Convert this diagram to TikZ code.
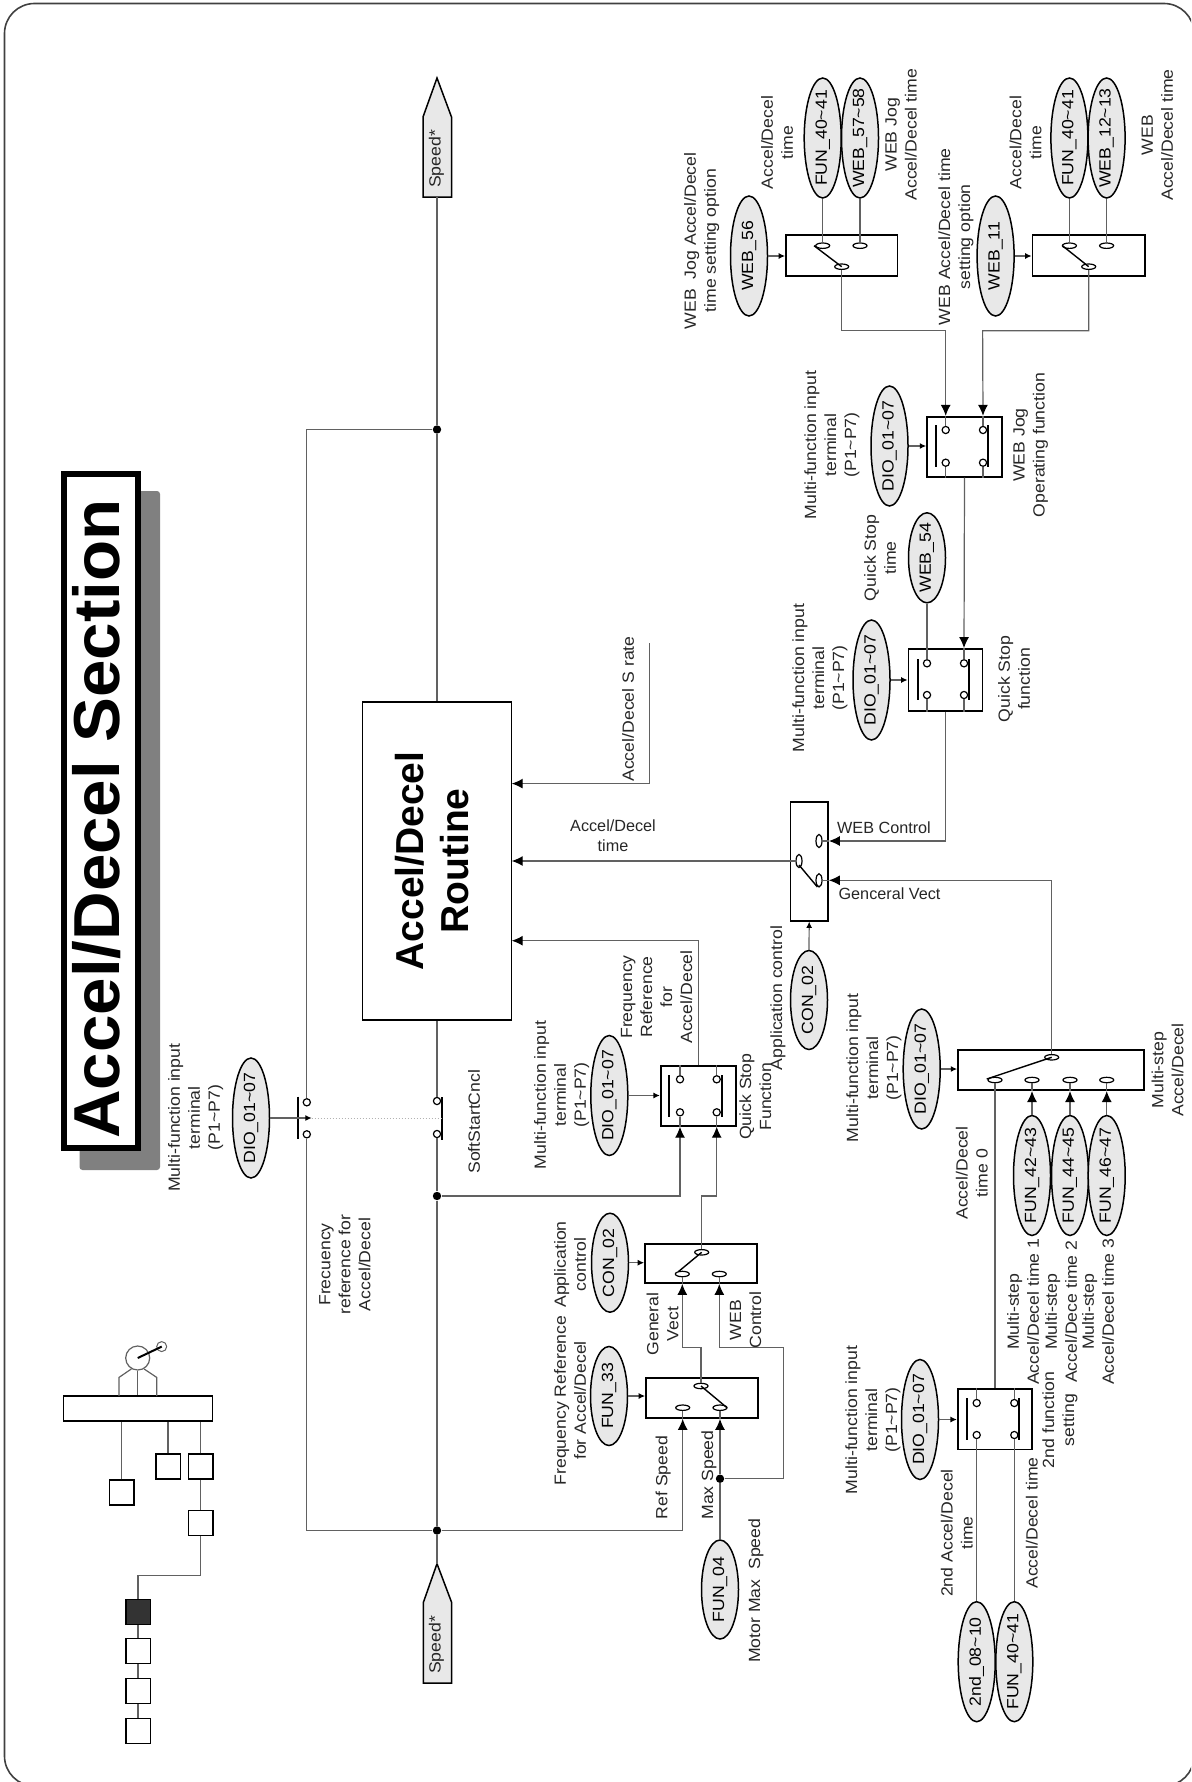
\documentclass[tikz,border=0pt]{standalone}
\usepackage{fontspec}
\setmainfont{Liberation Sans}
\usetikzlibrary{arrows.meta,shapes.geometric,calc}
\definecolor{linecol}{gray}{0.38}
\definecolor{ovalfill}{gray}{0.91}
\newcommand{\mk}[1]{\makebox[0pt]{\scalebox{1.09}[1]{#1}}}
\newcommand{\labfont}{\fontsize{8.1}{10}\selectfont}
\tikzset{
  x=.5pt,y=-.5pt,
  sz/.style 2 args={minimum width=#1*.5pt,minimum height=#2*.5pt},
  box/.style={draw=black,line width=.85pt,rectangle,inner sep=0pt},
  oval/.style={ellipse,draw=black,line width=.75pt,fill=ovalfill,inner sep=0pt,
     rotate=90,minimum width=120*.5pt,minimum height=37*.5pt,font=\labfont},
  ovalS/.style={oval,minimum width=99*.5pt},
  ovalM/.style={oval,minimum width=90*.5pt},
  lab/.style={rotate=90,xscale=1.09,align=center,inner sep=0pt,font=\labfont,text=black!85},
  hlab/.style={align=center,inner sep=0pt,font=\labfont,text=black!85},
  conn/.style={draw=linecol,line width=.6pt},
  arr/.style={conn,-{Latex[length=5.5pt,width=5pt,black]}},
  sarr/.style={conn,-{Latex[length=3.2pt,width=3pt,black]}},
  pin/.style={circle,draw=black,fill=white,line width=.6pt,inner sep=0pt,minimum size=3.6pt},
  ctH/.style={ellipse,draw=black,fill=white,line width=.6pt,inner sep=0pt,minimum width=7pt,minimum height=2.7pt},
  ctV/.style={ellipse,draw=black,fill=white,line width=.6pt,inner sep=0pt,minimum width=3pt,minimum height=6.6pt},
  blade/.style={draw=black,line width=.7pt},
  bar/.style={draw=black,line width=1.1pt},
  dot/.style={circle,fill=black,inner sep=0pt,minimum size=4.2pt},
  sq/.style={box,sz={24.5}{25},line width=.75pt},
}
\begin{document}
\begin{tikzpicture}
\path[use as bounding box] (0,0) rectangle (1191,1782);
\clip (0,0) rectangle (1191,1782);
% frame
\draw[draw=black!75,line width=.8pt,rounded corners=15pt] (4.5,3.5) rectangle (1194,1786);

% title
\fill[gray!100,rounded corners=1.5pt] (79.5,491) rectangle (160,1170);
\node[draw=black,fill=white,line width=3pt,sz={74}{674},inner sep=0pt] (title) at (101,811) {};
\node[rotate=90,xscale=1.035,inner sep=0pt,font=\fontsize{32.5}{36}\selectfont\bfseries] (titletext) at (96.5,819) {Accel/Decel Section};

% small tree
\node[box,sz={149}{25},line width=.75pt] (bus) at (137.8,1408.5) {};
\node[circle,draw=linecol,line width=.6pt,inner sep=0pt,minimum size=12pt] (mot) at (137.7,1358) {};
\node[circle,draw=linecol,line width=.5pt,inner sep=0pt,minimum size=5pt] (knob) at (161.7,1346.6) {};
\draw[blade,line width=1pt] (mot.center) -- (knob.center);
\draw[conn] (mot) -- (mot |- bus.north);
\draw[conn] (mot.240) -- (119,1377.4) -- (119,1396);
\draw[conn] (mot.300) -- (156.7,1377.4) -- (156.7,1396);
\node[sq] (s1) at (121.7,1492.5) {};
\node[sq] (s2) at (168,1466.7) {};
\node[sq] (s3) at (200.5,1466.7) {};
\node[sq] (s4) at (200.5,1523) {};
\node[sq,fill=black!80] (s5) at (138,1612) {};
\node[sq] (s6) at (138,1650.8) {};
\node[sq] (s7) at (138,1691) {};
\node[sq] (s8) at (138,1731) {};
\draw[conn] (s1.north) -- (s1 |- bus.south);
\draw[conn] (s2.north) -- (s2 |- bus.south);
\draw[conn] (s3.north) -- (s3 |- bus.south);
\draw[conn] (s3) -- (s4);
\draw[conn] (s4.south) -- ++(0,39.5) -| (s5.north);
\draw[conn] (s5) -- (s6);
\draw[conn] (s6) -- (s7);
\draw[conn] (s7) -- (s8);

% routine
\node[box,rotate=90,sz={318}{149},line width=.95pt] (route) at (437,861) {};
\node[rotate=90,align=center,inner sep=0pt,font=\fontsize{19.5}{22.5}\selectfont\bfseries] (routetext) at (432.5,861) {Accel/Decel\\Routine};

% speed pointers
\coordinate (spTtip) at (437,78);
\draw[draw=black,line width=.75pt,fill=ovalfill] (spTtip) -- (451.5,117) -- (451.5,197) -- (423,197) -- (423,117) -- cycle;
\node[lab] (spTt) at (436.5,159) {Speed*};
\coordinate (spTb) at (437,197);
\coordinate (spBtip) at (437,1563.7);
\draw[draw=black,line width=.75pt,fill=ovalfill] (spBtip) -- (451.7,1602.6) -- (451.7,1683) -- (423.3,1683) -- (423.3,1602.6) -- cycle;
\node[lab] (spBt) at (436.5,1645) {Speed*};

% main line
\node[dot] (j1) at (437,429.5) {};
\node[dot] (j2) at (437,1196) {};
\node[dot] (j3) at (437,1530.5) {};
\node[pin] (ssa) at (437,1101) {};
\node[pin] (ssb) at (437,1134) {};
\node[pin] (fra) at (306.8,1102.3) {};
\node[pin] (frb) at (306.8,1134.3) {};
\draw[conn] (spTb) -- (j1);
\draw[conn] (j1) -- (route.east);
\draw[conn] (route.west) -- (ssa);
\draw[conn] (ssb) -- (j2);
\draw[conn] (j2) -- (j3);
\draw[conn] (j3) -- (spBtip);
\draw[conn] (j1) -| (fra);
\draw[conn] (frb) |- (j3);
\draw[bar] (442,1097) -- (442,1140);
\draw[bar] (297.7,1096.7) -- (297.7,1139.3);
\node[oval] (dio0) at (251,1118) {\mk{DIO\_01\textasciitilde07}};
\coordinate (fratip) at (311.7,1118);
\draw[sarr] (dio0.south) -- (fratip);
\draw[draw=gray!60,line width=.5pt,densely dotted] (fratip) -- (441,1118);
\node[lab] at (195.7,1117.7) {Multi-function input\\terminal\\(P1\textasciitilde P7)};
\node[lab] at (345,1264.5) {Frecuency\\reference for\\Accel/Decel};
\node[lab] at (474,1121.7) {SoftStartCncl};

% S rate
\coordinate (srate) at (649.3,643);
\draw[arr] (srate) |- (511.7,783.6);
\node[lab] at (628,709) {Accel/Decel S rate};
\node[hlab] at (613,836) {Accel/Decel\\time};

% quick stop (frequency)
\node[box,sz={75}{59.7}] (qf) at (698.2,1096) {};
\node[pin] (qf1) at (680,1079.3) {};
\node[pin] (qf2) at (680,1112.3) {};
\node[pin] (qf3) at (716.7,1079.3) {};
\node[pin] (qf4) at (716.7,1112.3) {};
\draw[conn] (qf1) -- (qf1 |- qf.north);
\draw[conn] (qf3) -- (qf3 |- qf.north);
\draw[conn] (qf2) -- (qf2 |- qf.south);
\draw[conn] (qf4) -- (qf4 |- qf.south);
\draw[bar] (669.3,1075) -- (669.3,1116.7);
\draw[bar] (721.7,1075) -- (721.7,1116.7);
\node[oval] (dioq) at (609.3,1095.5) {\mk{DIO\_01\textasciitilde07}};
\draw[sarr] (dioq.south) -- (dioq.south -| qf.west);
\draw[arr] (j2) -| (qf2 |- qf.south);
\draw[arr] (qf.north) |- (511.7,940.7);
\node[lab] at (561.7,1095) {Multi-function input\\terminal\\(P1\textasciitilde P7)};
\node[lab] at (656.5,997) {Frequency\\Reference\\for\\Accel/Decel};
\node[lab] at (755.3,1096.7) {Quick Stop\\Function};

% application control (frequency)
\node[box,sz={111.7}{39}] (ca) at (700.8,1263.5) {};
\node[ctH] (ca1) at (682.3,1274) {};
\node[ctH] (ca2) at (719.3,1274) {};
\node[ctH] (ca3) at (701.7,1252.3) {};
\draw[blade] (ca3.center) -- (678.3,1271.7);
\node[ovalS] (con1) at (610,1262.7) {\mk{CON\_02}};
\draw[sarr] (con1.south) -- (con1.south -| ca.west);
\draw[arr] (ca3) -- (701.7,1196) -| (qf4 |- qf.south);
\node[lab] at (570,1264.5) {Application\\control};
\node[lab] at (662.7,1324) {General\\Vect};
\node[lab] at (745.5,1320) {WEB\\Control};

% frequency reference select
\node[box,sz={111.7}{40}] (fs) at (701.8,1398) {};
\node[ctH] (fs1) at (682.7,1407.7) {};
\node[ctH] (fs2) at (720,1407.7) {};
\node[ctH] (fs3) at (701,1386) {};
\draw[blade] (fs3.center) -- (727,1407.7);
\node[ovalS] (fun33) at (609,1396) {\mk{FUN\_33}};
\draw[sarr] (fun33.south) -- (fun33.south -| fs.west);
\node[dot] (j4) at (720,1478.7) {};
\node[ovalS] (fun04) at (720,1589.5) {\mk{FUN\_04}};
\draw[arr] (fs3) -- (701,1347.3) -| (ca1 |- ca.south);
\draw[arr] (j4) -- (783.3,1478.7) |- (719.3,1347.3) -- (ca2 |- ca.south);
\draw[conn] (ca1) -- (ca1 |- ca.south);
\draw[conn] (ca2) -- (ca2 |- ca.south);
\draw[arr] (j3) -| (fs1 |- fs.south);
\draw[conn] (fs1) -- (fs1 |- fs.south);
\draw[conn] (fun04.east) -- (j4);
\draw[arr] (j4) -- (fs2 |- fs.south);
\draw[conn] (fs2) -- (fs2 |- fs.south);
\node[lab] at (570,1400.5) {Frequency Reference\\for Accel/Decel};
\node[lab] at (663.3,1477.5) {Ref Speed};
\node[lab] at (709,1475) {Max Speed};
\node[lab] at (756,1590.7) {Motor Max\ \ Speed};

% application control (time)
\node[box,sz={37.6}{118.7}] (ap) at (809.2,861.3) {};
\node[ctV] (ap1) at (819,841) {};
\node[ctV] (ap2) at (819,880.3) {};
\node[ctV] (ap3) at (799,861) {};
\draw[blade] (799,865) -- (817.4,887);
\draw[arr] (ap3) -- (511.7,861);
\node[ovalS] (con2) at (809,1000) {\mk{CON\_02}};
\draw[sarr] (con2.east) -- (ap.south);
\draw[conn] (ap1) -- (ap1 -| ap.east);
\draw[conn] (ap2) -- (ap2 -| ap.east);
\node[hlab] at (884,828) {WEB Control};
\node[hlab] at (889.5,894) {Genceral Vect};
\node[lab] at (778,998) {Application control};

% multi-step
\node[box,sz={186}{40.3}] (ms) at (1051,1070) {};
\node[ctH] (ms0) at (995,1080) {};
\node[ctH] (ms1) at (1032,1080) {};
\node[ctH] (ms2) at (1070,1080) {};
\node[ctH] (ms3) at (1106.7,1080) {};
\node[ctH] (msc) at (1051.7,1057.3) {};
\draw[blade] (986.7,1079) -- (msc.center);
\draw[arr] (msc) |- (ap2 -| ap.east);
\node[oval] (diom) at (921.7,1069) {\mk{DIO\_01\textasciitilde07}};
\draw[sarr] (diom.south) -- (diom.south -| ms.west);
\node[oval] (f42) at (1032,1175.5) {\mk{FUN\_42\textasciitilde43}};
\node[oval] (f44) at (1070,1175.5) {\mk{FUN\_44\textasciitilde45}};
\node[oval] (f46) at (1106.7,1175.5) {\mk{FUN\_46\textasciitilde47}};
\draw[arr] (f42.east) -- (ms1 |- ms.south);
\draw[arr] (f44.east) -- (ms2 |- ms.south);
\draw[arr] (f46.east) -- (ms3 |- ms.south);
\draw[conn] (ms1) -- (ms1 |- ms.south);
\draw[conn] (ms2) -- (ms2 |- ms.south);
\draw[conn] (ms3) -- (ms3 |- ms.south);
\node[lab] at (874,1068) {Multi-function input\\terminal\\(P1\textasciitilde P7)};
\node[lab] at (971.7,1173) {Accel/Decel\\time 0};
\node[lab] at (1023,1311.7) {Multi-step\\Accel/Decel time 1};
\node[lab] at (1061,1311.7) {Multi-step\\Accel/Dece time 2};
\node[lab] at (1098,1311.7) {Multi-step\\Accel/Decel time 3};
\node[lab] at (1167.5,1070) {Multi-step\\Accel/Decel};

% 2nd function
\node[box,sz={74.6}{60.3}] (sf) at (995,1419.2) {};
\node[pin] (sf1) at (976.7,1403) {};
\node[pin] (sf2) at (976.7,1435) {};
\node[pin] (sf3) at (1014.3,1403) {};
\node[pin] (sf4) at (1014.3,1435) {};
\draw[conn] (sf1) -- (sf1 |- sf.north);
\draw[conn] (sf3) -- (sf3 |- sf.north);
\draw[bar] (966.7,1398) -- (966.7,1440);
\draw[bar] (1019,1398) -- (1019,1440);
\draw[conn] (ms0) -- (sf.north);
\node[oval] (dios) at (920,1419.5) {\mk{DIO\_01\textasciitilde07}};
\draw[sarr] (dios.south) -- (dios.south -| sf.west);
\node[oval] (s2nd) at (976.7,1661.7) {\mk{2nd\_08\textasciitilde10}};
\node[oval] (f40c) at (1014.3,1661.7) {\mk{FUN\_40\textasciitilde41}};
\draw[conn] (s2nd.east) -- (sf2);
\draw[conn] (f40c.east) -- (sf4);
\node[lab] at (873,1420) {Multi-function input\\terminal\\(P1\textasciitilde P7)};
\node[lab] at (956.7,1533) {2nd Accel/Decel\\time};
\node[lab] at (1031.7,1523) {Accel/Decel time};
\node[lab] at (1060,1420) {2nd function\\setting};

% quick stop (time)
\node[box,sz={74.2}{61.7}] (qt) at (945.5,679.8) {};
\node[pin] (qt1) at (927,663.3) {};
\node[pin] (qt2) at (927,695) {};
\node[pin] (qt3) at (964,663.3) {};
\node[pin] (qt4) at (964,695) {};
\draw[conn] (qt2) -- (qt2 |- qt.south);
\draw[conn] (qt4) -- (qt4 |- qt.south);
\draw[bar] (917.6,659.3) -- (917.6,700);
\draw[bar] (969,659.3) -- (969,700);
\node[oval] (dioqt) at (871.5,680) {\mk{DIO\_01\textasciitilde07}};
\draw[sarr] (dioqt.south) -- (dioqt.south -| qt.west);
\node[ovalM] (w54) at (927,557.8) {\mk{WEB\_54}};
\draw[conn] (w54.west) -- (qt1);
\draw[arr] (qt.south) |- (ap1 -| ap.east);
\node[lab] at (820,678) {Multi-function input\\terminal\\(P1\textasciitilde P7)};
\node[lab] at (880,558) {Quick Stop\\time};
\node[lab] at (1014,679) {Quick Stop\\function};

% WEB jog
\node[box,sz={75}{60}] (jg) at (964.5,446.7) {};
\node[pin] (jg1) at (945.7,430) {};
\node[pin] (jg2) at (945.7,462.7) {};
\node[pin] (jg3) at (983,430) {};
\node[pin] (jg4) at (983,462.7) {};
\draw[conn] (jg2) -- (jg2 |- jg.south);
\draw[conn] (jg4) -- (jg4 |- jg.south);
\draw[bar] (936,425) -- (936,466.7);
\draw[bar] (988,425) -- (988,466.7);
\draw[conn] (jg1) -- (jg1 |- jg.north);
\draw[conn] (jg3) -- (jg3 |- jg.north);
\node[oval] (dioj) at (889.5,446) {\mk{DIO\_01\textasciitilde07}};
\draw[sarr] (dioj.south) -- (dioj.south -| jg.west);
\draw[arr] (jg.south) -- (qt3 |- qt.north);
\draw[conn] (qt3) -- (qt3 |- qt.north);
\node[lab] at (832,445) {Multi-function input\\terminal\\(P1\textasciitilde P7)};
\node[lab] at (1030.7,445) {WEB Jog\\Operating function};

% WEB Jog select
\node[box,sz={111.5}{41}] (w1) at (841.7,255.5) {};
\node[ctH] (w1a) at (822.7,245.7) {};
\node[ctH] (w1b) at (860,245.7) {};
\node[ctH] (w1c) at (841.7,266.7) {};
\draw[blade] (814,245.7) -- (w1c.center);
\node[oval] (f40a) at (822.7,138) {\mk{FUN\_40\textasciitilde41}};
\node[oval] (w57) at (860,138) {\mk{WEB\_57\textasciitilde58}};
\draw[conn] (f40a.west) -- (w1a);
\draw[conn] (w57.west) -- (w1b);
\node[oval] (w56) at (749,256) {\mk{WEB\_56}};
\draw[sarr] (w56.south) -- (w56.south -| w1.west);
\draw[arr] (w1c) |- (945.7,330.7) -- (jg1 |- jg.north);
\node[lab] at (777,142.5) {Accel/Decel\\time};
\node[lab] at (901,134.7) {WEB Jog\\Accel/Decel time};
\node[lab] at (701.7,240.8) {WEB\ \ Jog Accel/Decel\\time setting option};

% WEB select
\node[box,sz={112.5}{41}] (w2) at (1088.7,255.5) {};
\node[ctH] (w2a) at (1069.4,245.7) {};
\node[ctH] (w2b) at (1106.6,245.7) {};
\node[ctH] (w2c) at (1088.7,266.7) {};
\draw[blade] (1062.4,245.7) -- (w2c.center);
\node[oval] (f40b) at (1069.4,138) {\mk{FUN\_40\textasciitilde41}};
\node[oval] (w12) at (1106.6,138) {\mk{WEB\_12\textasciitilde13}};
\draw[conn] (f40b.west) -- (w2a);
\draw[conn] (w12.west) -- (w2b);
\node[oval] (w11) at (995.6,256) {\mk{WEB\_11}};
\draw[sarr] (w11.south) -- (w11.south -| w2.west);
\draw[arr] (w2c) |- (982.6,330.7) -- (jg3 |- jg.north);
\node[lab] at (1025.5,142.5) {Accel/Decel\\time};
\node[lab] at (1157.3,135) {WEB\\Accel/Decel time};
\node[lab] at (956,236.7) {WEB Accel/Decel time\\setting option};
\end{tikzpicture}
\end{document}
